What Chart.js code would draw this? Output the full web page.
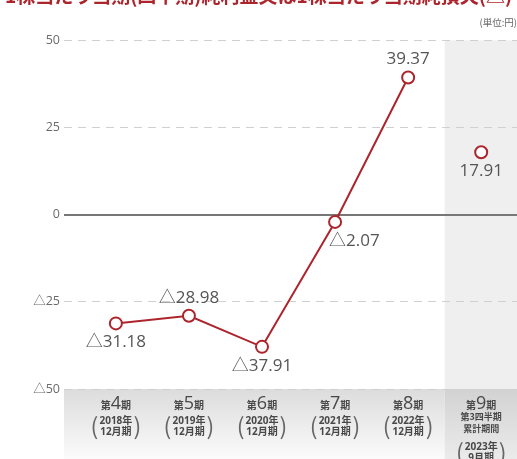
<!DOCTYPE html>
<html>
<head>
<meta charset="utf-8">
<script src="https://cdn.jsdelivr.net/npm/chart.js@4"></script>
<style>
  html, body { margin: 0; padding: 0; background: #fff; overflow: hidden; }
  #wrap { position: absolute; left: 0; top: -16px; width: 517px; height: 475px; }
</style>
</head>
<body>
<div id="wrap"><canvas id="eps"></canvas></div>
<script>
// 1株当たり当期(四半期)純利益 (単位:円), negative = 損失(△)
var periodNo = ['4', '5', '6', '7', '8', '9'];
var periodNote = [[], [], [], [], [], ['第3四半期', '累計期間']];
var periodDate = [
	['2018年', '12月期'],
	['2019年', '12月期'],
	['2020年', '12月期'],
	['2021年', '12月期'],
	['2022年', '12月期'],
	['2023年', '9月期']
];
var annualEps = [-31.18, -28.98, -37.91, -2.07, 39.37];
var quarterEps = [17.91];
var yTicks = [50, 25, 0, -25, -50];

var RED = '#ad252c';
var NUM_FONT = "'Open Sans', 'Noto Sans CJK JP', sans-serif";
var JP_FONT = "'Noto Sans CJK JP', sans-serif";

function fmt(v) {
	return v < 0 ? '△' + Math.abs(v).toFixed(2) : v.toFixed(2);
}

// where each value label sits relative to its point
var labelPos = ['below', 'above', 'below', 'belowRight', 'above', 'below'];

var backgroundPlugin = {
	id: 'background',
	beforeDraw: function(chart) {
		const ctx = chart.ctx;
		const area = chart.chartArea;
		const xs = chart.scales.x;
		const split = (xs.getPixelForValue(4) + xs.getPixelForValue(5)) / 2;
		const bottom = chart.height;
		ctx.save();
		ctx.fillStyle = '#efefef';
		ctx.fillRect(split, area.top, area.right - split, area.bottom - area.top);
		let g = ctx.createLinearGradient(0, area.bottom, 0, bottom);
		g.addColorStop(0, '#dcdcdc');
		g.addColorStop(1, '#fbfbfb');
		ctx.fillStyle = g;
		ctx.fillRect(area.left, area.bottom, split - area.left, bottom - area.bottom);
		g = ctx.createLinearGradient(0, area.bottom, 0, bottom);
		g.addColorStop(0, '#d2d2d2');
		g.addColorStop(1, '#ebebeb');
		ctx.fillStyle = g;
		ctx.fillRect(split, area.bottom, area.right - split, bottom - area.bottom);
		ctx.restore();
	}
};

var valueLabelPlugin = {
	id: 'valueLabels',
	afterDatasetsDraw: function(chart) {
		const ctx = chart.ctx;
		const values = annualEps.concat(quarterEps);
		const points = chart.getDatasetMeta(0).data.concat(chart.getDatasetMeta(1).data);
		ctx.save();
		ctx.font = '17px ' + NUM_FONT;
		ctx.fillStyle = '#555';
		ctx.textBaseline = 'middle';
		points.forEach(function(p, i) {
			const pos = labelPos[i];
			ctx.textAlign = 'center';
			let x = p.x, y = p.y;
			if (pos === 'above') y -= 18;
			if (pos === 'below') y += 19;
			if (pos === 'belowRight') { y += 19; x -= 6; ctx.textAlign = 'left'; }
			ctx.fillText(fmt(values[i]), x, y);
		});
		ctx.restore();
	}
};

var xLabelPlugin = {
	id: 'xLabels',
	afterDraw: function(chart) {
		const ctx = chart.ctx;
		const xs = chart.scales.x;
		const b = chart.chartArea.bottom;
		ctx.save();
		ctx.fillStyle = '#484848';
		periodNo.forEach(function(no, i) {
			const x = xs.getPixelForValue(i);
			// 第N期
			const small = 'bold 10px ' + JP_FONT;
			const big = '18px ' + NUM_FONT;
			ctx.font = small;
			const w1 = ctx.measureText('第').width;
			const w3 = ctx.measureText('期').width;
			ctx.font = big;
			const w2 = ctx.measureText(no).width;
			let sx = x - (w1 + w2 + w3) / 2;
			ctx.textAlign = 'left';
			ctx.textBaseline = 'alphabetic';
			ctx.font = small;
			ctx.fillText('第', sx, b + 20);
			ctx.font = big;
			ctx.fillText(no, sx + w1, b + 20);
			ctx.font = small;
			ctx.fillText('期', sx + w1 + w2, b + 20);

			ctx.textAlign = 'center';
			ctx.textBaseline = 'middle';
			let y = b + 32;
			ctx.font = 'bold 9px ' + JP_FONT;
			periodNote[i].forEach(function(t) {
				ctx.fillText(t, x, y - 4);
				y += 12;
			});
			if (periodNote[i].length) y += 2;
			ctx.font = 'bold 10px ' + NUM_FONT;
			const lines = periodDate[i];
			let wmax = 0;
			lines.forEach(function(t) { wmax = Math.max(wmax, ctx.measureText(t).width); });
			ctx.fillText(lines[0], x, y);
			ctx.fillText(lines[1], x, y + 11);
			ctx.font = '23px ' + JP_FONT;
			ctx.fillStyle = '#666';
			ctx.fillText('(', x - wmax / 2 - 5, y + 5.5);
			ctx.fillText(')', x + wmax / 2 + 5, y + 5.5);
			ctx.fillStyle = '#484848';
		});
		ctx.restore();
	}
};

var ctx = document.getElementById('eps').getContext('2d');
var epsChart = new Chart(ctx, {
	type: 'line',
	data: {
		datasets: [{
			label: '通期',
			data: annualEps.map(function(v, i) { return { x: i, y: v }; }),
			borderColor: RED,
			borderWidth: 2,
			pointRadius: 6,
			pointBorderWidth: 2,
			pointBackgroundColor: '#fff',
			pointBorderColor: RED,
			tension: 0
		}, {
			label: '第3四半期累計',
			data: quarterEps.map(function(v, i) { return { x: annualEps.length + i, y: v }; }),
			showLine: false,
			borderColor: RED,
			pointRadius: 6,
			pointBorderWidth: 2,
			pointBackgroundColor: '#fff',
			pointBorderColor: RED
		}]
	},
	options: {
		responsive: true,
		maintainAspectRatio: false,
		animation: false,
		events: [],
		layout: { padding: 0, autoPadding: false },
		plugins: {
			legend: { display: false },
			tooltip: { enabled: false },
			title: {
				display: true,
				text: '1株当たり当期(四半期)純利益又は1株当たり当期純損失(△)',
				color: RED,
				font: { family: JP_FONT, size: 19, weight: 'bold' },
				padding: { top: 0, bottom: 9.8 }
			},
			subtitle: {
				display: true,
				text: '(単位:円)',
				align: 'end',
				color: '#666',
				font: { family: JP_FONT, size: 9.5 },
				padding: { top: 0, bottom: 12.4 }
			}
		},
		scales: {
			x: {
				type: 'linear',
				min: -0.71,
				max: 5.49,
				grid: { display: false },
				border: { display: false },
				ticks: { display: false },
				afterFit: function(scale) { scale.height = 70; }
			},
			y: {
				min: -50,
				max: 50,
				afterBuildTicks: function(scale) {
					scale.ticks = yTicks.map(function(v) { return { value: v }; });
				},
				ticks: {
					padding: 4,
					color: '#6a6a6a',
					font: { family: NUM_FONT, size: 12.5 },
					callback: function(v) { return v < 0 ? '△' + Math.abs(v) : String(v); }
				},
				grid: {
					drawTicks: false,
					color: function(c) { return c.tick && c.tick.value === 0 ? '#777' : '#d0d0d0'; },
					lineWidth: function(c) { return c.tick && c.tick.value === 0 ? 2 : 1; }
				},
				border: {
					display: false,
					dash: function(c) { return c.tick && c.tick.value === 0 ? [] : [8, 6]; }
				},
				afterFit: function(scale) { scale.width = 64; }
			}
		}
	},
	plugins: [backgroundPlugin, valueLabelPlugin, xLabelPlugin]
});
</script>
</body>
</html>
